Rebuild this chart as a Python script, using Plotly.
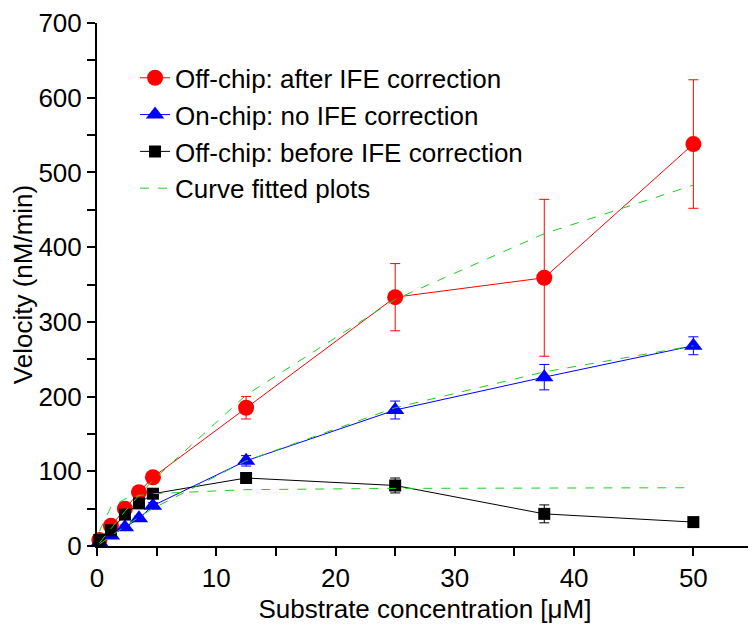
import plotly.graph_objects as go

# substrate concentrations (uM)
conc = [0.2, 1.17, 2.34, 3.52, 4.69, 12.5, 25, 37.5, 50]

# Off-chip after IFE correction
after_v = [8, 27, 50, 72, 92, 185, 333, 359, 538]
after_err = [2, 3, 4, 4, 4, 15, 45, 105, 86]

# On-chip, no IFE correction
onchip_v = [5, 14, 25, 37, 54, 114, 182, 226, 268]
onchip_err = [1, 2, 3, 3, 4, 7, 12, 17, 12]

# Off-chip before IFE correction
before_v = [8, 21, 42, 57, 70, 91, 81, 43, 32]
before_err = [1, 2, 3, 3, 3, 4, 10, 12, 3]

# curve fitted values read at the same concentrations
fit_after = [4.1, 23.7, 46.2, 67.8, 88, 202, 330, 418, 483]
fit_onchip = [2.4, 13.6, 26.4, 38.7, 50.2, 114, 185, 233, 268]
fit_before = [19.7, 52.2, 62.9, 67.5, 70, 75.4, 77.1, 77.7, 78]

FONT = "Liberation Sans, Arial, sans-serif"

fig = go.Figure()

series = [
    ("Off-chip: after IFE correction", after_v, after_err, "#ff0000", "circle", 16),
    ("On-chip: no IFE correction", onchip_v, onchip_err, "#0000ff", "triangle-up", 16),
    ("Off-chip: before IFE correction", before_v, before_err, "#000000", "square", 12),
]

for name, vals, errs, color, symbol, size in series:
    fig.add_trace(go.Scatter(
        x=conc, y=vals, name=name, mode="lines+markers",
        line=dict(color=color, width=1),
        marker=dict(color=color, symbol=symbol, size=size),
        error_y=dict(type="data", array=errs, color=color, thickness=1, width=5),
        cliponaxis=False,
    ))

for i, fit in enumerate([fit_after, fit_onchip, fit_before]):
    fig.add_trace(go.Scatter(
        x=conc, y=fit, name="Curve fitted plots", mode="lines",
        line=dict(color="#22cc22", width=1, dash="dash"),
        showlegend=(i == 0),
    ))

# page body has an 8px margin, so the figure is a bit smaller than the window
fig.update_layout(
    width=748, height=623,
    margin=dict(l=89, r=3, t=15, b=85),
    paper_bgcolor="white", plot_bgcolor="white",
    font=dict(family=FONT, size=26, color="black"),
    legend=dict(x=0.058, y=0.94, xanchor="left", yanchor="top",
                bgcolor="rgba(0,0,0,0)", font=dict(size=26),
                tracegroupgap=0, itemwidth=30),
    showlegend=True,
)

fig.update_xaxes(
    range=[0, 55], tickvals=[0, 10, 20, 30, 40, 50], automargin=False,
    ticks="outside", ticklen=8, tickwidth=2, tickcolor="black",
    minor=dict(dtick=5, tick0=0, ticks="outside", ticklen=8, tickwidth=2, tickcolor="black"),
    showline=True, linewidth=2, linecolor="black", showgrid=False, zeroline=False,
    tickfont=dict(size=26), ticklabeloverflow="allow",
    title=dict(text="Substrate concentration [\u03bcM]", font=dict(size=26), standoff=8),
)
fig.update_yaxes(
    range=[0, 700], dtick=100, automargin=False,
    ticks="outside", ticklen=8, tickwidth=2, tickcolor="black",
    minor=dict(dtick=50, ticks="outside", ticklen=8, tickwidth=2, tickcolor="black"),
    showline=True, linewidth=2, linecolor="black", showgrid=False, zeroline=False,
    tickfont=dict(size=26), ticklabeloverflow="allow",
    title=dict(text="Velocity (nM/min)", font=dict(size=26), standoff=10),
)

fig.write_html("out.html")
